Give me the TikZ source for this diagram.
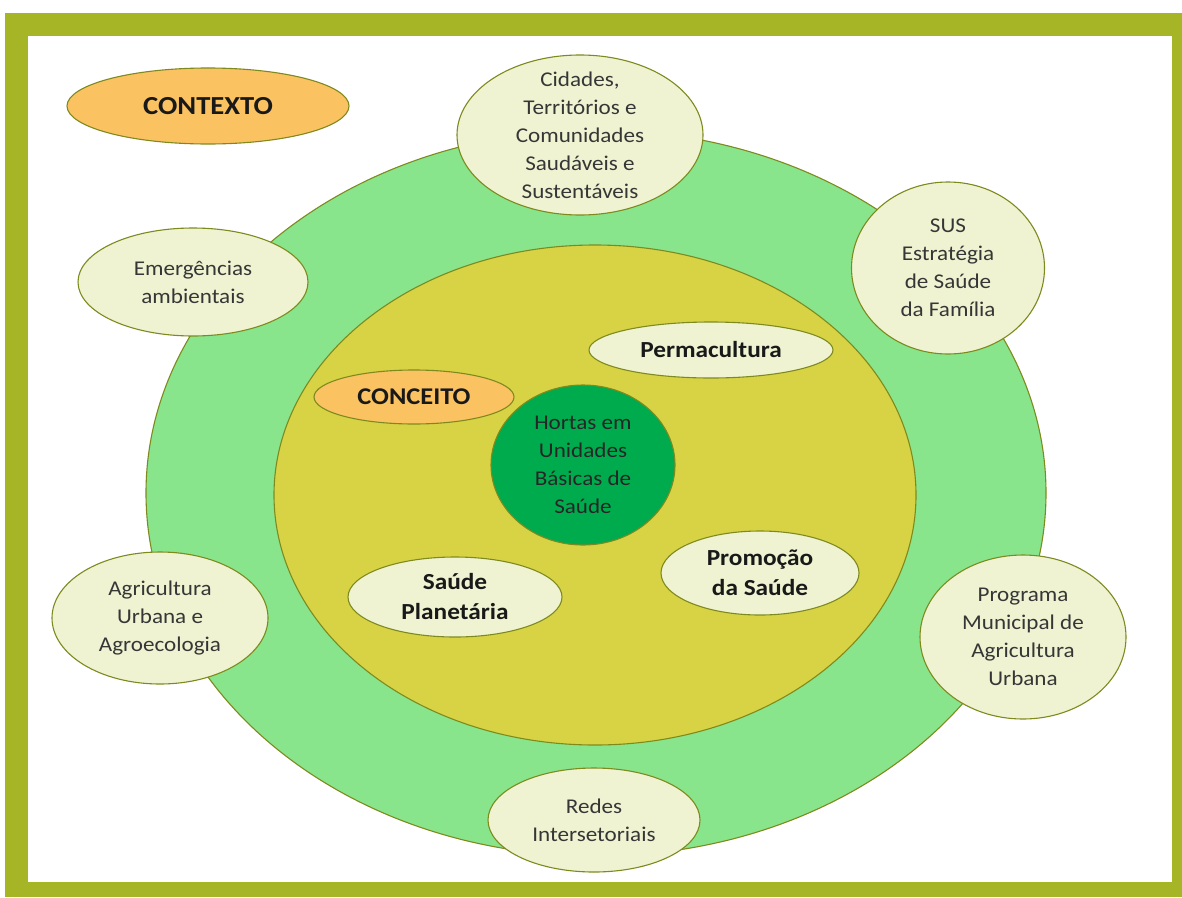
\documentclass[tikz,border=0pt]{standalone}
\usepackage{fontspec}
\setmainfont{Carlito}[FakeStretch=1.1]
\usetikzlibrary{shapes.geometric}

\definecolor{frameolive}{HTML}{A6B526}
\definecolor{ringgreen}{HTML}{88E58C}
\definecolor{coreyellow}{HTML}{D7D345}
\definecolor{heartgreen}{HTML}{00AB4E}
\definecolor{paleleaf}{HTML}{EFF3D1}
\definecolor{tagorange}{HTML}{FBC261}
\definecolor{edgeolive}{HTML}{7E8A1E}
\definecolor{inkgray}{HTML}{363636}

\tikzset{
  blob/.style={ellipse, draw=edgeolive, line width=1.1pt, inner sep=0pt, outer sep=0pt},
  leaf/.style={blob, fill=paleleaf},
  tag/.style={blob, fill=tagorange},
  plain/.style={align=center, inner sep=0pt, text=inkgray,
    font=\fontsize{21}{28}\selectfont},
  strong/.style={align=center, inner sep=0pt, text=black!90,
    font=\fontsize{23}{30}\selectfont\bfseries},
  title/.style={align=center, inner sep=0pt, text=black!90,
    font=\fontsize{24}{30}\selectfont\bfseries},
}

\begin{document}
\begin{tikzpicture}[x=1pt, y=-1pt]
  % canvas and frame
  \fill[white] (0,0) rectangle (1182,897);
  \useasboundingbox (0,0) rectangle (1182,897);
  \fill[frameolive] (5,13) rectangle (1182,897);
  \fill[white] (28,36) rectangle (1172,882);

  % nested rings
  \node[blob, fill=ringgreen, minimum width=900pt, minimum height=726pt] (ring) at (596,493) {};
  \node[blob, fill=coreyellow, minimum width=642pt, minimum height=500pt] (core) at (595,495) {};

  % context label
  \node[tag, minimum width=282pt, minimum height=76pt] (contexto) at (208,106) {};
  \node[title, font=\fontsize{26}{30}\selectfont\bfseries] (contexto-t) at (contexto.center) {CONTEXTO};

  % surrounding themes
  \node[leaf, minimum width=246pt, minimum height=160pt] (cidades) at (580,135) {};
  \node[plain] (cidades-t) at (cidades.center) {Cidades,\\Territórios e\\Comunidades\\Saudáveis e\\Sustentáveis};

  \node[leaf, minimum width=193pt, minimum height=172pt] (sus) at (948,268) {};
  \node[plain] (sus-t) at (sus.center) {SUS\\Estratégia\\de Saúde\\da Família};

  \node[leaf, minimum width=230pt, minimum height=108pt] (emerg) at (193,282) {};
  \node[plain] (emerg-t) at (emerg.center) {Emergências\\ambientais};

  \node[leaf, minimum width=216pt, minimum height=132pt] (agri) at (160,618) {};
  \node[plain] (agri-t) at (agri.center) {Agricultura\\Urbana e\\Agroecologia};

  \node[leaf, minimum width=206pt, minimum height=164pt] (programa) at (1023,637) {};
  \node[plain] (programa-t) at (programa.center) {Programa\\Municipal de\\Agricultura\\Urbana};

  \node[leaf, minimum width=212pt, minimum height=104pt] (redes) at (594,820) {};
  \node[plain] (redes-t) at (redes.center) {Redes\\Intersetoriais};

  % concept layer
  \node[leaf, minimum width=244pt, minimum height=56pt] (perma) at (711,350) {};
  \node[strong] (perma-t) at (perma.center) {Permacultura};

  \node[tag, minimum width=200pt, minimum height=54pt] (conceito) at (414,397) {};
  \node[title] (conceito-t) at (conceito.center) {CONCEITO};

  \node[blob, fill=heartgreen, minimum width=184pt, minimum height=160pt] (hortas) at (583,465) {};
  \node[plain, text=black!85] (hortas-t) at (hortas.center) {Hortas em\\Unidades\\Básicas de\\Saúde};

  \node[leaf, minimum width=214pt, minimum height=80pt] (planeta) at (455,597) {};
  \node[strong] (planeta-t) at (planeta.center) {Saúde\\Planetária};

  \node[leaf, minimum width=198pt, minimum height=84pt] (promo) at (760,573) {};
  \node[strong] (promo-t) at (promo.center) {Promoção\\da Saúde};
\end{tikzpicture}
\end{document}
